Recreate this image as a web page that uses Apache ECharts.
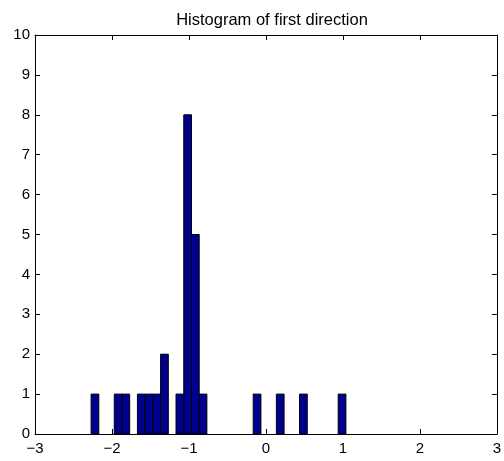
<!DOCTYPE html>
<html><head><meta charset="utf-8">
<script src="https://cdn.jsdelivr.net/npm/echarts@6/dist/echarts.min.js"></script>
<style>html,body{margin:0;padding:0;background:#fff}#c{width:504px;height:461px}</style>
</head><body><div id="c"></div>
<script>
const binCenters = [-2.221, -1.920, -1.820, -1.619, -1.519, -1.419, -1.318, -1.118, -1.017, -0.917, -0.817, -0.115, 0.186, 0.487, 0.989];
const counts     = [1, 1, 1, 1, 1, 1, 2, 1, 8, 5, 1, 1, 1, 1, 1];
const binWidth = 0.1003;
const xTicks = [-3, -2, -1, 0, 1, 2, 3];
const yTicks = [0, 1, 2, 3, 4, 5, 6, 7, 8, 9, 10];
const titleText = 'Histogram of first direction';

const font = '"Liberation Sans", Arial, Helvetica, sans-serif';
const data = binCenters.map((c, i) => [c - binWidth / 2, c + binWidth / 2, counts[i]]);
const chart = echarts.init(document.getElementById('c'), null, {renderer: 'canvas'});
const fmt = v => (v < 0 ? '\u2212' + Math.abs(v) : String(v));
const axisCommon = {
  axisLine: {show: true, onZero: false, lineStyle: {color: '#000', width: 1}},
  axisTick: {show: true, inside: true, length: 5, lineStyle: {color: '#000'}},
  splitLine: {show: false}
};
chart.setOption({
  animation: false,
  title: {text: titleText, left: 267, top: 7, textAlign: 'center',
    textStyle: {fontFamily: font, fontSize: 16.5, fontWeight: 'normal', color: '#000'}},
  grid: {left: 35, right: 4, top: 35, bottom: 27},
  xAxis: [
    Object.assign({type: 'value', min: xTicks[0], max: xTicks[xTicks.length - 1], interval: 1, position: 'bottom',
      axisLabel: {formatter: fmt, fontFamily: font, fontSize: 15, color: '#000', margin: 7}}, axisCommon),
    Object.assign({type: 'value', min: xTicks[0], max: xTicks[xTicks.length - 1], interval: 1, position: 'top',
      axisLabel: {show: false}}, axisCommon)
  ],
  yAxis: [
    Object.assign({type: 'value', min: yTicks[0], max: yTicks[yTicks.length - 1], interval: 1, position: 'left',
      axisLabel: {fontFamily: font, fontSize: 15, color: '#000', margin: 5}}, axisCommon),
    Object.assign({type: 'value', min: yTicks[0], max: yTicks[yTicks.length - 1], interval: 1, position: 'right',
      axisLabel: {show: false}}, axisCommon)
  ],
  series: [{
    type: 'custom',
    xAxisIndex: 0, yAxisIndex: 0,
    data: data,
    encode: {x: [0, 1], y: 2},
    renderItem: function (params, api) {
      const p0 = api.coord([api.value(0), 0]);
      const p1 = api.coord([api.value(1), api.value(2)]);
      return {
        type: 'rect',
        shape: {x: p0[0], y: p1[1], width: p1[0] - p0[0], height: p0[1] - p1[1]},
        style: {fill: '#00008f', stroke: '#000', lineWidth: 1}
      };
    }
  }]
});
</script></body></html>
